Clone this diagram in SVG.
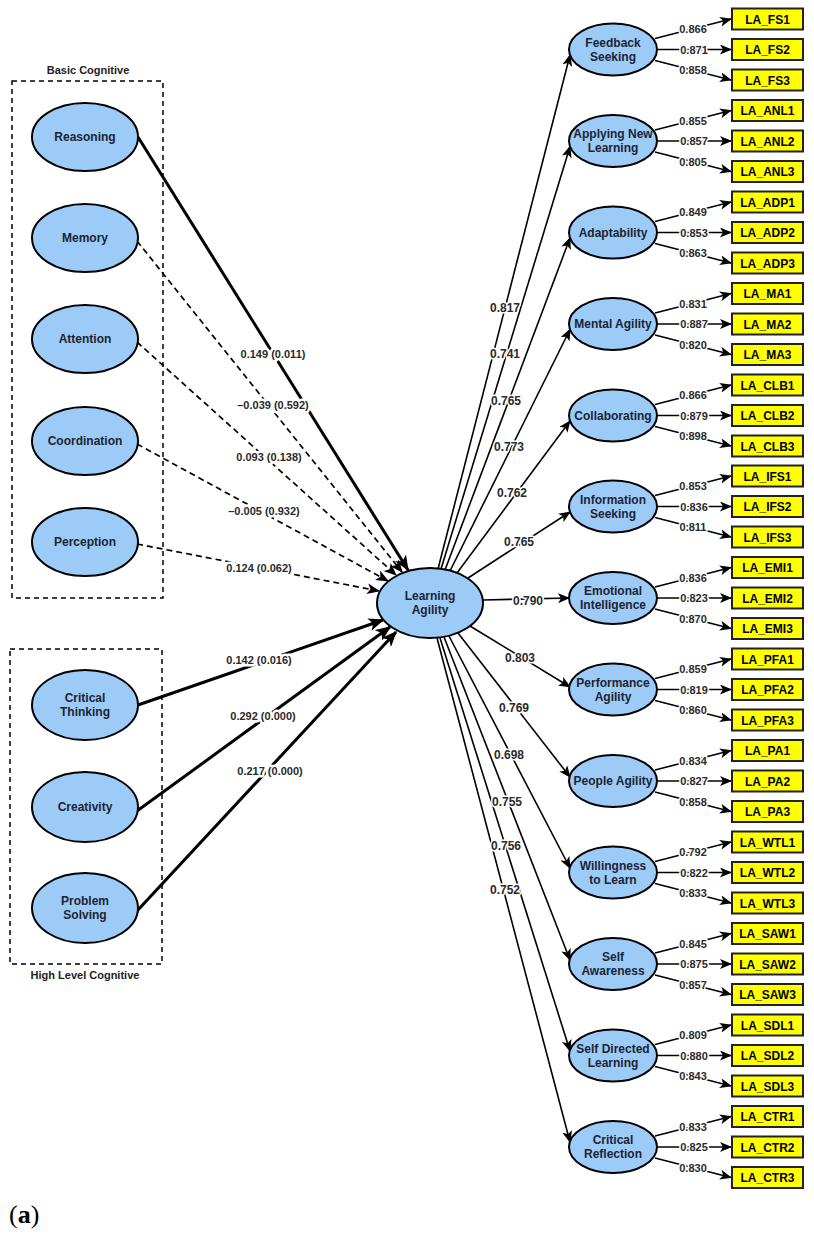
<svg xmlns="http://www.w3.org/2000/svg" width="814" height="1236" viewBox="0 0 814 1236">
<style>
.bg{fill:#fff}
.lv ellipse{fill:#9DCBF7;stroke:#000;stroke-width:2}
.lv text{font-family:"Liberation Sans",Arial,sans-serif;font-weight:bold;font-size:12px;fill:#1b2433;text-anchor:middle}
.ind rect{fill:#FFFF00;stroke:#222;stroke-width:2}
.ind text{font-family:"Liberation Sans",Arial,sans-serif;font-weight:bold;font-size:12px;fill:#000;text-anchor:middle}
.box{fill:none;stroke:#000;stroke-width:1.5;stroke-dasharray:5,4}
.cap{font-family:"Liberation Sans",Arial,sans-serif;font-weight:bold;font-size:11px;fill:#222;text-anchor:middle}
.c{fill:none;stroke:#000}
.thin{stroke-width:1.6;marker-end:url(#ah)}
.thick{stroke-width:3;marker-end:url(#ahb)}
.dash{stroke-width:1.7;stroke-dasharray:6,4;marker-end:url(#ahd)}
.ld{stroke-width:1.6;marker-end:url(#ah)}
.n{font-family:"Liberation Sans",Arial,sans-serif;font-weight:bold;font-size:11px;fill:#2a2a2a;text-anchor:middle;stroke:#fff;stroke-width:3;paint-order:stroke;stroke-linejoin:round}
.s{font-family:"Liberation Sans",Arial,sans-serif;font-weight:bold;font-size:12px;fill:#2a2a2a;text-anchor:middle;stroke:#fff;stroke-width:3;paint-order:stroke;stroke-linejoin:round}
.p{font-family:"Liberation Sans",Arial,sans-serif;font-weight:bold;font-size:11px;fill:#2a2a2a;text-anchor:middle;stroke:#fff;stroke-width:5;paint-order:stroke;stroke-linejoin:round}
</style>
<defs>
<marker id="ah" viewBox="0 0 12 10" refX="11" refY="5" markerWidth="12" markerHeight="10" orient="auto" markerUnits="userSpaceOnUse"><path d="M0,0 L12,5 L0,10 L3,5 z" fill="#000"/></marker>
<marker id="ahd" viewBox="0 0 12 10" refX="11" refY="5" markerWidth="13" markerHeight="11" orient="auto" markerUnits="userSpaceOnUse"><path d="M0,0 L12,5 L0,10 L3,5 z" fill="#000"/></marker>
<marker id="ahb" viewBox="0 0 12 10" refX="11" refY="5" markerWidth="16" markerHeight="13" orient="auto" markerUnits="userSpaceOnUse"><path d="M0,0 L12,5 L0,10 L3,5 z" fill="#000"/></marker>
</defs>
<rect class="bg" x="0" y="0" width="814" height="1236"/>

<g id="group-boxes">
<rect class="box" x="12" y="81" width="151" height="517"/>
<text class="cap" x="88" y="74">Basic Cognitive</text>
<rect class="box" x="10" y="649" width="152" height="315"/>
<text class="cap" x="85" y="979">High Level Cognitive</text>
</g>

<g id="connectors">
<path class="c thick" d="M138,137 L408,570"/>
<path class="c dash" d="M137,241 L402,572"/>
<path class="c dash" d="M137,342 L396,575"/>
<path class="c dash" d="M137,444 L388,581"/>
<path class="c dash" d="M137,544 L379,591"/>
<path class="c thick" d="M138,705 L383,620"/>
<path class="c thick" d="M137,811 L390,627"/>
<path class="c thick" d="M137,911 L396,632"/>
<path class="c thin" d="M438,569 L570,55"/>
<path class="c thin" d="M441,569 L570,146.5"/>
<path class="c thin" d="M445,570 L570,238"/>
<path class="c thin" d="M450,571 L570,329.5"/>
<path class="c thin" d="M457,573 L570,421"/>
<path class="c thin" d="M468,578 L570,512"/>
<path class="c thin" d="M483,600 L569,598"/>
<path class="c thin" d="M470,626 L570,687"/>
<path class="c thin" d="M458,633 L570,777"/>
<path class="c thin" d="M449,636 L570,868"/>
<path class="c thin" d="M444,637 L570,960"/>
<path class="c thin" d="M440,638 L570,1051"/>
<path class="c thin" d="M437,638 L570,1142"/>
<path class="c ld" d="M655,38.5 L731,19"/><path class="c ld" d="M657,49.5 L731,49.5"/><path class="c ld" d="M655,60.5 L731,80"/>
<path class="c ld" d="M655,130 L731,110.5"/><path class="c ld" d="M657,141 L731,141"/><path class="c ld" d="M655,152 L731,171.5"/>
<path class="c ld" d="M655,221.5 L731,202"/><path class="c ld" d="M657,232.5 L731,232.5"/><path class="c ld" d="M655,243.5 L731,263"/>
<path class="c ld" d="M655,313 L731,293.5"/><path class="c ld" d="M657,324 L731,324"/><path class="c ld" d="M655,335 L731,354.5"/>
<path class="c ld" d="M655,404.5 L731,385"/><path class="c ld" d="M657,415.5 L731,415.5"/><path class="c ld" d="M655,426.5 L731,446"/>
<path class="c ld" d="M655,495.5 L731,476"/><path class="c ld" d="M657,506.5 L731,506.5"/><path class="c ld" d="M655,517.5 L731,537"/>
<path class="c ld" d="M655,587 L731,567.5"/><path class="c ld" d="M657,598 L731,598"/><path class="c ld" d="M655,609 L731,628.5"/>
<path class="c ld" d="M655,678.5 L731,659"/><path class="c ld" d="M657,689.5 L731,689.5"/><path class="c ld" d="M655,700.5 L731,720"/>
<path class="c ld" d="M655,770 L731,750.5"/><path class="c ld" d="M657,781 L731,781"/><path class="c ld" d="M655,792 L731,811.5"/>
<path class="c ld" d="M655,861.5 L731,842"/><path class="c ld" d="M657,872.5 L731,872.5"/><path class="c ld" d="M655,883.5 L731,903"/>
<path class="c ld" d="M655,953 L731,933.5"/><path class="c ld" d="M657,964 L731,964"/><path class="c ld" d="M655,975 L731,994.5"/>
<path class="c ld" d="M655,1044.5 L731,1025"/><path class="c ld" d="M657,1055.5 L731,1055.5"/><path class="c ld" d="M655,1066.5 L731,1086"/>
<path class="c ld" d="M655,1136 L731,1116.5"/><path class="c ld" d="M657,1147 L731,1147"/><path class="c ld" d="M655,1158 L731,1177.5"/>
</g>

<g id="path-labels">
<text class="p" x="273" y="358">0.149 (0.011)</text>
<text class="p" x="273" y="409">–0.039 (0.592)</text>
<text class="p" x="269" y="461">0.093 (0.138)</text>
<text class="p" x="264" y="515">–0.005 (0.932)</text>
<text class="p" x="259" y="572">0.124 (0.062)</text>
<text class="p" x="259" y="664">0.142 (0.016)</text>
<text class="p" x="263" y="720">0.292 (0.000)</text>
<text class="p" x="270" y="775">0.217 (0.000)</text>
<text class="s" x="505" y="312">0.817</text>
<text class="s" x="505" y="358">0.741</text>
<text class="s" x="506" y="405">0.765</text>
<text class="s" x="509" y="451">0.773</text>
<text class="s" x="512" y="497">0.762</text>
<text class="s" x="519" y="546">0.765</text>
<text class="s" x="528" y="605">0.790</text>
<text class="s" x="520" y="662">0.803</text>
<text class="s" x="514" y="712">0.769</text>
<text class="s" x="509" y="759">0.698</text>
<text class="s" x="507" y="806">0.755</text>
<text class="s" x="506" y="850">0.756</text>
<text class="s" x="505" y="894">0.752</text>
</g>

<g id="loading-labels">
<text class="n" x="693" y="33">0.866</text><text class="n" x="694" y="53.5">0.871</text><text class="n" x="693" y="74">0.858</text>
<text class="n" x="693" y="124.5">0.855</text><text class="n" x="694" y="145">0.857</text><text class="n" x="693" y="165.5">0.805</text>
<text class="n" x="693" y="216">0.849</text><text class="n" x="694" y="236.5">0.853</text><text class="n" x="693" y="257">0.863</text>
<text class="n" x="693" y="307.5">0.831</text><text class="n" x="694" y="328">0.887</text><text class="n" x="693" y="348.5">0.820</text>
<text class="n" x="693" y="399">0.866</text><text class="n" x="694" y="419.5">0.879</text><text class="n" x="693" y="440">0.898</text>
<text class="n" x="693" y="490">0.853</text><text class="n" x="694" y="510.5">0.836</text><text class="n" x="693" y="531">0.811</text>
<text class="n" x="693" y="581.5">0.836</text><text class="n" x="694" y="602">0.823</text><text class="n" x="693" y="622.5">0.870</text>
<text class="n" x="693" y="673">0.859</text><text class="n" x="694" y="693.5">0.819</text><text class="n" x="693" y="714">0.860</text>
<text class="n" x="693" y="764.5">0.834</text><text class="n" x="694" y="785">0.827</text><text class="n" x="693" y="805.5">0.858</text>
<text class="n" x="693" y="856">0.792</text><text class="n" x="694" y="876.5">0.822</text><text class="n" x="693" y="897">0.833</text>
<text class="n" x="693" y="947.5">0.845</text><text class="n" x="694" y="968">0.875</text><text class="n" x="693" y="988.5">0.857</text>
<text class="n" x="693" y="1039">0.809</text><text class="n" x="694" y="1059.5">0.880</text><text class="n" x="693" y="1080">0.843</text>
<text class="n" x="693" y="1130.5">0.833</text><text class="n" x="694" y="1151">0.825</text><text class="n" x="693" y="1171.5">0.830</text>
</g>

<g id="reasoning" class="lv"><ellipse cx="85" cy="137" rx="53" ry="34"/><text x="85" y="141">Reasoning</text></g>
<g id="memory" class="lv"><ellipse cx="85" cy="238" rx="53" ry="34"/><text x="85" y="242">Memory</text></g>
<g id="attention" class="lv"><ellipse cx="85" cy="339" rx="53" ry="34"/><text x="85" y="343">Attention</text></g>
<g id="coordination" class="lv"><ellipse cx="85" cy="441" rx="53" ry="34"/><text x="85" y="445">Coordination</text></g>
<g id="perception" class="lv"><ellipse cx="85" cy="542" rx="53" ry="34"/><text x="85" y="546">Perception</text></g>
<g id="critical-thinking" class="lv"><ellipse cx="85" cy="705" rx="53" ry="35"/><text x="85" y="702">Critical</text><text x="85" y="716">Thinking</text></g>
<g id="creativity" class="lv"><ellipse cx="85" cy="807" rx="53" ry="35"/><text x="85" y="811">Creativity</text></g>
<g id="problem-solving" class="lv"><ellipse cx="85" cy="908" rx="53" ry="35"/><text x="85" y="905">Problem</text><text x="85" y="919">Solving</text></g>

<g id="learning-agility" class="lv"><ellipse cx="430" cy="603" rx="53" ry="35"/><text x="430" y="600">Learning</text><text x="430" y="614">Agility</text></g>

<g id="feedback-seeking" class="lv"><ellipse cx="613" cy="49.5" rx="44" ry="26"/><text x="613" y="46.5">Feedback</text><text x="613" y="60.5">Seeking</text></g>
<g id="applying-new-learning" class="lv"><ellipse cx="613" cy="141" rx="44" ry="26"/><text x="613" y="138">Applying New</text><text x="613" y="152">Learning</text></g>
<g id="adaptability" class="lv"><ellipse cx="613" cy="232.5" rx="44" ry="26"/><text x="613" y="236.5">Adaptability</text></g>
<g id="mental-agility" class="lv"><ellipse cx="613" cy="324" rx="44" ry="26"/><text x="613" y="328">Mental Agility</text></g>
<g id="collaborating" class="lv"><ellipse cx="613" cy="415.5" rx="44" ry="26"/><text x="613" y="419.5">Collaborating</text></g>
<g id="information-seeking" class="lv"><ellipse cx="613" cy="506.5" rx="44" ry="26"/><text x="613" y="503.5">Information</text><text x="613" y="517.5">Seeking</text></g>
<g id="emotional-intelligence" class="lv"><ellipse cx="613" cy="598" rx="44" ry="26"/><text x="613" y="595">Emotional</text><text x="613" y="609">Intelligence</text></g>
<g id="performance-agility" class="lv"><ellipse cx="613" cy="689.5" rx="44" ry="26"/><text x="613" y="686.5">Performance</text><text x="613" y="700.5">Agility</text></g>
<g id="people-agility" class="lv"><ellipse cx="613" cy="781" rx="44" ry="26"/><text x="613" y="785">People Agility</text></g>
<g id="willingness-to-learn" class="lv"><ellipse cx="613" cy="872.5" rx="44" ry="26"/><text x="613" y="869.5">Willingness</text><text x="613" y="883.5">to Learn</text></g>
<g id="self-awareness" class="lv"><ellipse cx="613" cy="964" rx="44" ry="26"/><text x="613" y="961">Self</text><text x="613" y="975">Awareness</text></g>
<g id="self-directed-learning" class="lv"><ellipse cx="613" cy="1055.5" rx="44" ry="26"/><text x="613" y="1052.5">Self Directed</text><text x="613" y="1066.5">Learning</text></g>
<g id="critical-reflection" class="lv"><ellipse cx="613" cy="1147" rx="44" ry="26"/><text x="613" y="1144">Critical</text><text x="613" y="1158">Reflection</text></g>

<g id="LA_FS1" class="ind"><rect x="732" y="8.5" width="71" height="21"/><text x="767.5" y="23.5">LA_FS1</text></g>
<g id="LA_FS2" class="ind"><rect x="732" y="39" width="71" height="21"/><text x="767.5" y="54">LA_FS2</text></g>
<g id="LA_FS3" class="ind"><rect x="732" y="69.5" width="71" height="21"/><text x="767.5" y="84.5">LA_FS3</text></g>
<g id="LA_ANL1" class="ind"><rect x="732" y="100" width="71" height="21"/><text x="767.5" y="115">LA_ANL1</text></g>
<g id="LA_ANL2" class="ind"><rect x="732" y="130.5" width="71" height="21"/><text x="767.5" y="145.5">LA_ANL2</text></g>
<g id="LA_ANL3" class="ind"><rect x="732" y="161" width="71" height="21"/><text x="767.5" y="176">LA_ANL3</text></g>
<g id="LA_ADP1" class="ind"><rect x="732" y="191.5" width="71" height="21"/><text x="767.5" y="206.5">LA_ADP1</text></g>
<g id="LA_ADP2" class="ind"><rect x="732" y="222" width="71" height="21"/><text x="767.5" y="237">LA_ADP2</text></g>
<g id="LA_ADP3" class="ind"><rect x="732" y="252.5" width="71" height="21"/><text x="767.5" y="267.5">LA_ADP3</text></g>
<g id="LA_MA1" class="ind"><rect x="732" y="283" width="71" height="21"/><text x="767.5" y="298">LA_MA1</text></g>
<g id="LA_MA2" class="ind"><rect x="732" y="313.5" width="71" height="21"/><text x="767.5" y="328.5">LA_MA2</text></g>
<g id="LA_MA3" class="ind"><rect x="732" y="344" width="71" height="21"/><text x="767.5" y="359">LA_MA3</text></g>
<g id="LA_CLB1" class="ind"><rect x="732" y="374.5" width="71" height="21"/><text x="767.5" y="389.5">LA_CLB1</text></g>
<g id="LA_CLB2" class="ind"><rect x="732" y="405" width="71" height="21"/><text x="767.5" y="420">LA_CLB2</text></g>
<g id="LA_CLB3" class="ind"><rect x="732" y="435.5" width="71" height="21"/><text x="767.5" y="450.5">LA_CLB3</text></g>
<g id="LA_IFS1" class="ind"><rect x="732" y="465.5" width="71" height="21"/><text x="767.5" y="480.5">LA_IFS1</text></g>
<g id="LA_IFS2" class="ind"><rect x="732" y="496" width="71" height="21"/><text x="767.5" y="511">LA_IFS2</text></g>
<g id="LA_IFS3" class="ind"><rect x="732" y="526.5" width="71" height="21"/><text x="767.5" y="541.5">LA_IFS3</text></g>
<g id="LA_EMI1" class="ind"><rect x="732" y="557" width="71" height="21"/><text x="767.5" y="572">LA_EMI1</text></g>
<g id="LA_EMI2" class="ind"><rect x="732" y="587.5" width="71" height="21"/><text x="767.5" y="602.5">LA_EMI2</text></g>
<g id="LA_EMI3" class="ind"><rect x="732" y="618" width="71" height="21"/><text x="767.5" y="633">LA_EMI3</text></g>
<g id="LA_PFA1" class="ind"><rect x="732" y="648.5" width="71" height="21"/><text x="767.5" y="663.5">LA_PFA1</text></g>
<g id="LA_PFA2" class="ind"><rect x="732" y="679" width="71" height="21"/><text x="767.5" y="694">LA_PFA2</text></g>
<g id="LA_PFA3" class="ind"><rect x="732" y="709.5" width="71" height="21"/><text x="767.5" y="724.5">LA_PFA3</text></g>
<g id="LA_PA1" class="ind"><rect x="732" y="740" width="71" height="21"/><text x="767.5" y="755">LA_PA1</text></g>
<g id="LA_PA2" class="ind"><rect x="732" y="770.5" width="71" height="21"/><text x="767.5" y="785.5">LA_PA2</text></g>
<g id="LA_PA3" class="ind"><rect x="732" y="801" width="71" height="21"/><text x="767.5" y="816">LA_PA3</text></g>
<g id="LA_WTL1" class="ind"><rect x="732" y="831.5" width="71" height="21"/><text x="767.5" y="846.5">LA_WTL1</text></g>
<g id="LA_WTL2" class="ind"><rect x="732" y="862" width="71" height="21"/><text x="767.5" y="877">LA_WTL2</text></g>
<g id="LA_WTL3" class="ind"><rect x="732" y="892.5" width="71" height="21"/><text x="767.5" y="907.5">LA_WTL3</text></g>
<g id="LA_SAW1" class="ind"><rect x="732" y="923" width="71" height="21"/><text x="767.5" y="938">LA_SAW1</text></g>
<g id="LA_SAW2" class="ind"><rect x="732" y="953.5" width="71" height="21"/><text x="767.5" y="968.5">LA_SAW2</text></g>
<g id="LA_SAW3" class="ind"><rect x="732" y="984" width="71" height="21"/><text x="767.5" y="999">LA_SAW3</text></g>
<g id="LA_SDL1" class="ind"><rect x="732" y="1014.5" width="71" height="21"/><text x="767.5" y="1029.5">LA_SDL1</text></g>
<g id="LA_SDL2" class="ind"><rect x="732" y="1045" width="71" height="21"/><text x="767.5" y="1060">LA_SDL2</text></g>
<g id="LA_SDL3" class="ind"><rect x="732" y="1075.5" width="71" height="21"/><text x="767.5" y="1090.5">LA_SDL3</text></g>
<g id="LA_CTR1" class="ind"><rect x="732" y="1106" width="71" height="21"/><text x="767.5" y="1121">LA_CTR1</text></g>
<g id="LA_CTR2" class="ind"><rect x="732" y="1136.5" width="71" height="21"/><text x="767.5" y="1151.5">LA_CTR2</text></g>
<g id="LA_CTR3" class="ind"><rect x="732" y="1167" width="71" height="21"/><text x="767.5" y="1182">LA_CTR3</text></g>

<text x="9" y="1223" font-family="'Liberation Serif','Times New Roman',serif" font-size="26" fill="#000">(<tspan font-weight="bold">a</tspan>)</text>
</svg>
